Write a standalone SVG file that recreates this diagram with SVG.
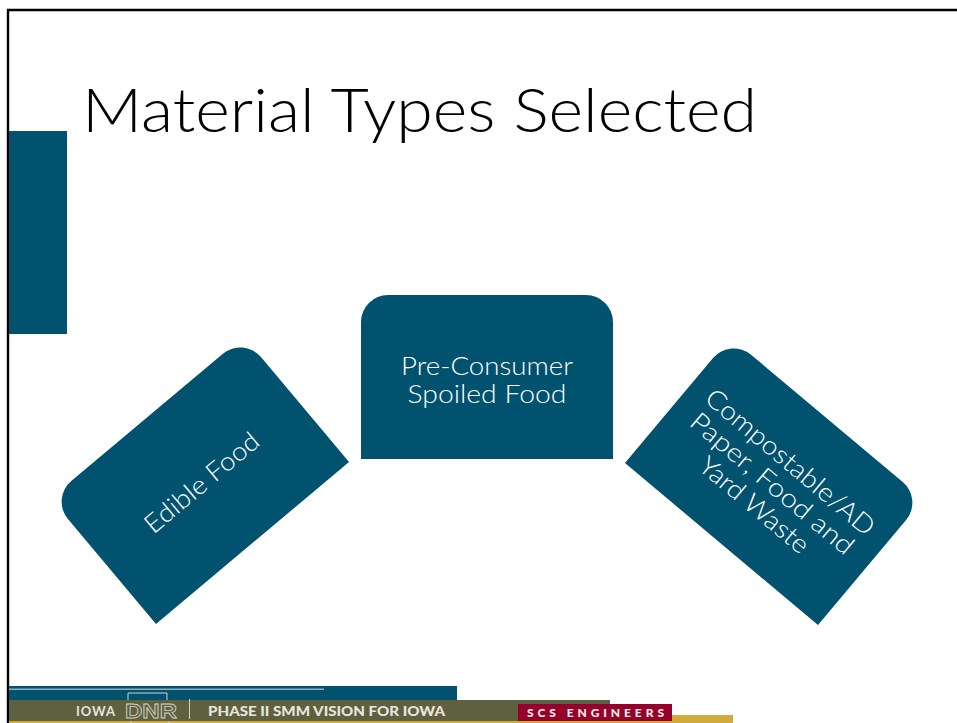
<svg xmlns="http://www.w3.org/2000/svg" width="957" height="723" viewBox="0 0 957 723">
<style>
.n{fill:#00526e}
.t{font-family:"Lato","Liberation Sans",sans-serif;font-weight:300;fill:#fff;font-size:26px;text-anchor:middle}
.f{font-family:"Lato","Liberation Sans",Arial,sans-serif;fill:#e6e6dc}
</style>
<defs><path id="card" class="n" d="M-126 82V-55A27 27 0 0 1-99-82H99A27 27 0 0 1 126-55V82Z"/></defs>
<rect width="957" height="723" fill="#fff"/>
<path d="M8 723V10H957" fill="none" stroke="#000" stroke-width="2.4"/>
<rect x="9" y="131" width="58" height="203" fill="#00526e"/>
<text id="title" x="82" y="132" font-family="Lato,'Liberation Sans',sans-serif" font-weight="300" font-size="62" textLength="675" lengthAdjust="spacingAndGlyphs" fill="#000">Material Types Selected</text>
<g id="connectors"/>
<g id="node-edible" transform="translate(199.8 480.2) rotate(-40)"><use href="#card"/><text class="t" y="12" textLength="141" lengthAdjust="spacingAndGlyphs">Edible Food</text></g>
<g id="node-preconsumer" transform="translate(487 377)"><use href="#card"/><text class="t" y="-2" textLength="172" lengthAdjust="spacingAndGlyphs">Pre-Consumer</text><text class="t" y="26" textLength="159" lengthAdjust="spacingAndGlyphs">Spoiled Food</text></g>
<g id="node-compostable" transform="translate(774.2 481.2) rotate(40)"><use href="#card"/><text class="t" y="-16" textLength="212" lengthAdjust="spacingAndGlyphs">Compostable/AD</text><text class="t" y="12" textLength="205" lengthAdjust="spacingAndGlyphs">Paper, Food and</text><text class="t" y="40" textLength="135" lengthAdjust="spacingAndGlyphs">Yard Waste</text></g>
<g id="footer">
<rect x="9" y="686" width="448" height="14" fill="#00526e"/>
<rect x="9" y="688.5" width="315" height="1.5" fill="#8fb0bd"/>
<rect x="9" y="700" width="601" height="21" fill="#5f6040"/>
<rect x="9" y="721" width="724" height="2" fill="#d1aa3c"/>
<rect x="672" y="715" width="61" height="8" fill="#d1aa3c"/>
<rect x="518" y="704" width="154" height="17" fill="#96002d"/>
<text class="f" x="76" y="716" font-size="13" font-weight="700" textLength="39">IOWA</text>
<path d="M128 700V693H167V700M131 721V723M169 721V723" fill="none" stroke="#d0d3c4" stroke-width="1"/>
<text x="125" y="718" font-family="'Liberation Sans',sans-serif" font-size="20" font-weight="bold" fill="none" stroke="#d0d3c4" stroke-width="0.8" textLength="52" lengthAdjust="spacingAndGlyphs">DNR</text>
<rect x="189" y="699" width="1" height="20" fill="#d0d3c4"/>
<text class="f" x="208" y="716" font-size="13.5" font-weight="900" textLength="237" lengthAdjust="spacingAndGlyphs">PHASE II SMM VISION FOR IOWA</text>
<text x="527" y="717" font-family="Lato,'Liberation Sans',sans-serif" font-size="12" font-weight="900" fill="#f5efe6" textLength="137">SCS ENGINEERS</text>
</g>
</svg>
